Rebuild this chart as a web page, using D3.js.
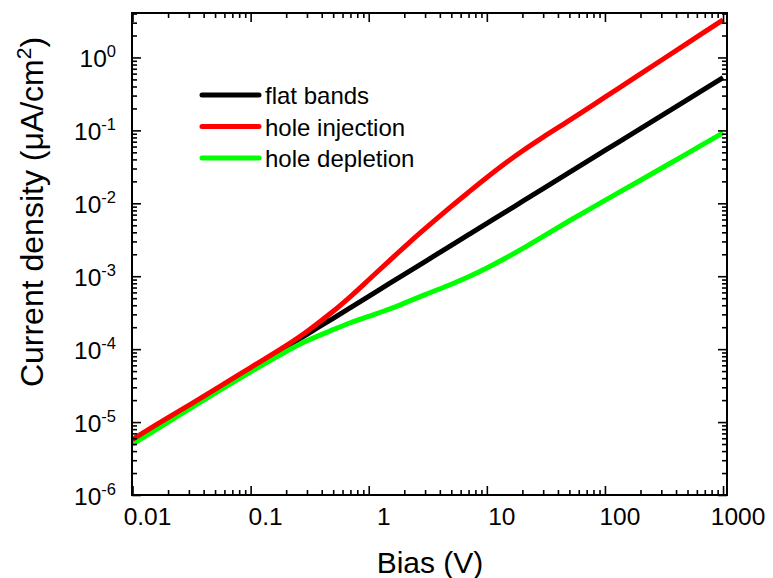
<!DOCTYPE html>
<html><head><meta charset="utf-8">
<script src="https://cdn.jsdelivr.net/npm/d3@7/dist/d3.min.js"></script>
<style>body{margin:0;background:#fff}svg{display:block}text{font-family:"Liberation Sans",Arial,sans-serif;fill:#000}</style>
</head><body><svg id="c" width="773" height="578"></svg>
<script>
// Data
const bias = [0.01, 0.02, 0.05, 0.1, 0.2, 0.3, 0.5, 0.7, 1, 1.5, 2, 3, 5, 7, 10, 15, 20, 30, 50, 100, 200, 500, 1000];
const flatBands = [5.5e-6, 1.1e-5, 2.7e-5, 5.4e-5, 1.07e-4, 1.6e-4, 2.65e-4, 3.7e-4, 5.3e-4, 7.95e-4, 1.06e-3, 1.59e-3, 2.65e-3, 3.71e-3, 5.3e-3, 7.95e-3, 1.06e-2, 1.59e-2, 2.65e-2, 5.3e-2, 0.106, 0.265, 0.53];
const holeInjection = [5.8e-6, 1.15e-5, 2.8e-5, 5.6e-5, 1.12e-4, 1.75e-4, 3.31e-4, 5.27e-4, 8.94e-4, 1.64e-3, 2.51e-3, 4.48e-3, 9.07e-3, 1.42e-2, 2.26e-2, 3.74e-2, 5.22e-2, 8.09e-2, 0.137, 0.285, 0.594, 1.573, 3.28];
const holeDepletion = [5.0e-6, 1.0e-5, 2.5e-5, 4.9e-5, 9.3e-5, 1.3e-4, 1.85e-4, 2.3e-4, 2.82e-4, 3.55e-4, 4.27e-4, 5.6e-4, 7.77e-4, 9.84e-4, 1.3e-3, 1.835e-3, 2.39e-3, 3.53e-3, 5.76e-3, 1.097e-2, 2.07e-2, 4.85e-2, 9.24e-2];
const seriesNames = ["flat bands", "hole injection", "hole depletion"];
const seriesColors = ["#000000", "#ff0000", "#00ff00"];
const xTickValues = [0.01, 0.1, 1, 10, 100, 1000];
const xTickLabels = ["0.01", "0.1", "1", "10", "100", "1000"];
const yTickValues = [1e-6, 1e-5, 1e-4, 1e-3, 1e-2, 1e-1, 1];
const yTickExponents = ["-6", "-5", "-4", "-3", "-2", "-1", "0"];
const xTitle = "Bias (V)";
const yTitle = "Current density (μA/cm";

const svg = d3.select("#c");
const L = 132, R = 727, T = 13, B = 495;
const x = d3.scaleLog().domain([0.0099, 1080]).range([L, R]);
const y = d3.scaleLog().domain([1e-6, 4.07]).range([B, T]);

function minors(decades, dom) {
  const out = [];
  decades.forEach(d => { for (let k = 2; k <= 9; k++) { const v = d * k; if (v > dom[0] && v < dom[1]) out.push(v); } });
  return out;
}
const xMinor = minors([0.01, 0.1, 1, 10, 100, 1000], x.domain());
const yMinor = minors([1e-6, 1e-5, 1e-4, 1e-3, 1e-2, 1e-1, 1], y.domain());

const series = [flatBands, holeInjection, holeDepletion];
const line = d3.line().x((d, i) => x(bias[i])).y(d => y(d)).curve(d3.curveCatmullRom.alpha(0.5));
const gLines = svg.append("g");
[0, 2, 1].forEach(si => {
  gLines.append("path").datum(series[si]).attr("d", line)
    .attr("fill", "none").attr("stroke", seriesColors[si]).attr("stroke-width", 5)
    .attr("stroke-linejoin", "round").attr("stroke-linecap", "butt");
});

function addAxis(axisFn, scale, vals, size, tr) {
  const g = svg.append("g").attr("transform", tr)
    .call(axisFn(scale).tickValues(vals).tickSize(size).tickFormat(""));
  g.select(".domain").remove();
  g.selectAll(".tick line").attr("stroke", "#000").attr("stroke-width", 1.6);
  return g;
}
addAxis(d3.axisBottom, x, xTickValues, -9, `translate(0,${B})`);
addAxis(d3.axisBottom, x, xMinor, -5, `translate(0,${B})`);
addAxis(d3.axisTop, x, xTickValues, -9, `translate(0,${T})`);
addAxis(d3.axisTop, x, xMinor, -5, `translate(0,${T})`);
addAxis(d3.axisLeft, y, yTickValues, -9, `translate(${L},0)`);
addAxis(d3.axisLeft, y, yMinor, -5, `translate(${L},0)`);
addAxis(d3.axisRight, y, yTickValues, -9, `translate(${R},0)`);
addAxis(d3.axisRight, y, yMinor, -5, `translate(${R},0)`);

svg.append("rect").attr("x", L).attr("y", T).attr("width", R - L).attr("height", B - T)
  .attr("fill", "none").attr("stroke", "#000").attr("stroke-width", 2);

svg.append("g").selectAll("text").data(xTickValues).join("text")
  .attr("x", d => x(d) + 15).attr("y", 525).attr("text-anchor", "middle")
  .attr("font-size", 24.5).text((d, i) => xTickLabels[i]);

const yl = svg.append("g").selectAll("text").data(yTickValues).join("text")
  .attr("x", 116).attr("y", d => y(d) + 10).attr("text-anchor", "end").attr("font-size", 24.5);
yl.append("tspan").text("10");
yl.append("tspan").attr("dy", -10).attr("font-size", 16.5).text((d, i) => yTickExponents[i]);

svg.append("text").attr("x", 430).attr("y", 573).attr("text-anchor", "middle")
  .attr("font-size", 30).text(xTitle);
const yt = svg.append("text").attr("transform", "translate(43,212) rotate(-90)")
  .attr("text-anchor", "middle").attr("font-size", 32);
yt.append("tspan").text(yTitle);
yt.append("tspan").attr("dy", -12).attr("font-size", 21).text("2");
yt.append("tspan").attr("dy", 12).text(")");

const legY = [95, 126.5, 158];
const leg = svg.append("g");
seriesNames.forEach((n, i) => {
  leg.append("line").attr("x1", 202).attr("x2", 259).attr("y1", legY[i]).attr("y2", legY[i])
    .attr("stroke", seriesColors[i]).attr("stroke-width", 5).attr("stroke-linecap", "round");
  leg.append("text").attr("x", 265).attr("y", legY[i] + 9).attr("font-size", 24).text(n);
});
</script></body></html>
